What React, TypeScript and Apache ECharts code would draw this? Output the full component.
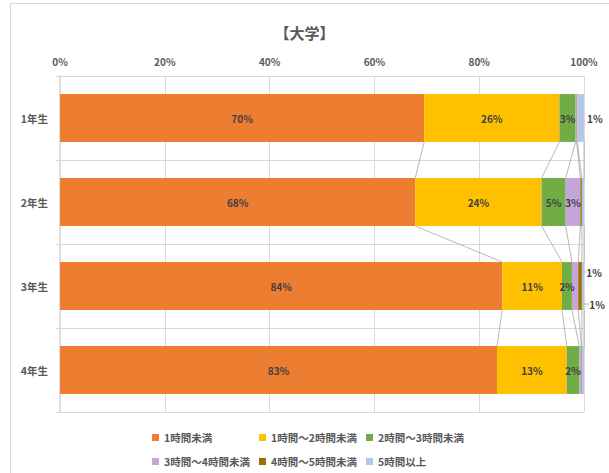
import React, { useEffect, useRef } from "react";
import * as echarts from "echarts";

const title = "【大学】";
const categories = ["1年生", "2年生", "3年生", "4年生"];
const seriesNames = [
  "1時間未満",
  "1時間～2時間未満",
  "2時間～3時間未満",
  "3時間～4時間未満",
  "4時間～5時間未満",
  "5時間以上",
];
// percentages per series, for 1年生..4年生
const lt1 = [69.5, 67.8, 84.4, 83.4];
const h1to2 = [25.8, 24.1, 11.4, 13.3];
const h2to3 = [3.1, 4.6, 1.9, 2.4];
const h3to4 = [0.2, 2.8, 1.2, 0.4];
const h4to5 = [0.1, 0.3, 0.7, 0.1];
const ge5 = [1.3, 0.4, 0.4, 0.4];
const xTicks = [0, 20, 40, 60, 80, 100];

const colors = ["#ED7D31", "#FFC000", "#70AD47", "#C3A7DC", "#9C7100", "#B4C7E7"];
const FONT = "'Noto Sans CJK JP', 'Noto Sans', sans-serif";

export default function App() {
  const ref = useRef<HTMLDivElement>(null);
  useEffect(() => {
    if (!ref.current) return;
    const chart = echarts.init(ref.current, null, { renderer: "svg" });
    const allSeries = [lt1, h1to2, h2to3, h3to4, h4to5, ge5];

    // series lines between consecutive bars at each cumulative boundary
    const cum = categories.map((_, ci) => {
      let s = 0;
      return allSeries.map((arr) => (s += arr[ci]));
    });
    const lineData: number[][] = [];
    for (let ci = 0; ci < categories.length - 1; ci++) {
      for (let k = 0; k < allSeries.length; k++) {
        lineData.push([Math.min(cum[ci][k], 100), ci, Math.min(cum[ci + 1][k], 100), ci + 1]);
      }
    }
    const barRatio = 0.57;

    const labelOffsets: Record<string, { dx: number; dy: number }> = {
      "3-2": { dx: 19, dy: -14 },
      "4-2": { dx: 17, dy: 18 },
    };

    const barSeries = allSeries.map((arr, si) => ({
      name: seriesNames[si],
      type: "bar",
      stack: "total",
      barCategoryGap: "43%",
      itemStyle: { color: colors[si] },
      label: {
        show: true,
        position: "inside",
        color: "#404040",
        fontSize: 10,
        fontWeight: "bold",
        fontFamily: FONT,
        formatter: (p: any) => {
          const r = Math.round(p.value);
          return r >= 1 ? r + "%" : "";
        },
      },
      labelLayout: (p: any) => {
        const o = labelOffsets[si + "-" + p.dataIndex];
        return o ? { dx: o.dx, dy: o.dy } : {};
      },
      data: arr.map((v, ci) => {
        const key = si + "-" + ci;
        const item: any = { value: v };
        if (si === 5 && ci === 0) {
          item.label = { position: "right", distance: 3 };
        }
        if (labelOffsets[key]) {
          item.labelLine = { show: true, lineStyle: { color: "#a6a6a6", width: 0.8 } };
        }
        return item;
      }),
    }));

    chart.setOption({
      animation: false,
      textStyle: { fontFamily: FONT },
      title: {
        text: title,
        left: "center",
        top: 20,
        textStyle: { fontSize: 15, fontWeight: "bold", color: "#595959", fontFamily: FONT },
      },
      graphic: [
        {
          type: "rect",
          shape: { x: 10.5, y: 3.5, width: 640, height: 520 },
          style: { fill: "none", stroke: "#d9d9d9", lineWidth: 1 },
          silent: true,
        },
      ],
      grid: { left: 60, right: 25, top: 76, bottom: 61, containLabel: false },
      xAxis: {
        type: "value",
        position: "top",
        min: 0,
        max: 100,
        interval: 20,
        axisLine: { show: false },
        axisTick: { show: false },
        axisLabel: {
          formatter: (v: number) => (xTicks.includes(v) ? v + "%" : ""),
          color: "#595959",
          fontSize: 10,
          fontWeight: "bold",
          margin: 10,
          fontFamily: FONT,
        },
        splitLine: { show: true, lineStyle: { color: "#d9d9d9", width: 1 } },
      },
      yAxis: {
        type: "category",
        inverse: true,
        data: categories,
        axisLine: { show: true, lineStyle: { color: "#d9d9d9", width: 1.5 } },
        axisTick: { show: true, length: 4, lineStyle: { color: "#d9d9d9" } },
        splitLine: { show: true, lineStyle: { color: "#d9d9d9", width: 1 } },
        axisLabel: {
          color: "#595959",
          fontSize: 10.5,
          fontWeight: "bold",
          margin: 12,
          fontFamily: FONT,
        },
      },
      legend: {
        data: seriesNames,
        left: 147,
        top: 422,
        width: 330,
        padding: 5,
        itemWidth: 7,
        itemHeight: 7,
        itemGap: 3,
        icon: "rect",
        textStyle: {
          color: "#595959",
          fontSize: 10.5,
          fontWeight: "bold",
          width: 92,
          lineHeight: 21,
          fontFamily: FONT,
        },
      },
      series: [
        ...barSeries,
        {
          type: "custom",
          name: "seriesLines",
          silent: true,
          z: 1,
          encode: { x: [0, 2], y: [1, 3] },
          renderItem: (params: any, api: any) => {
            const p1 = api.coord([api.value(0), api.value(1)]);
            const p2 = api.coord([api.value(2), api.value(3)]);
            const band = api.size([0, 1])[1];
            const half = (band * barRatio) / 2;
            return {
              type: "line",
              shape: { x1: p1[0], y1: p1[1] + half, x2: p2[0], y2: p2[1] - half },
              style: { stroke: "#a6a6a6", lineWidth: 0.8 },
            };
          },
          data: lineData,
        },
      ],
    });
    return () => chart.dispose();
  }, []);
  return (
    <div
      ref={ref}
      style={{ position: "fixed", left: 0, top: 0, width: 609, height: 473, background: "#fff" }}
    />
  );
}
